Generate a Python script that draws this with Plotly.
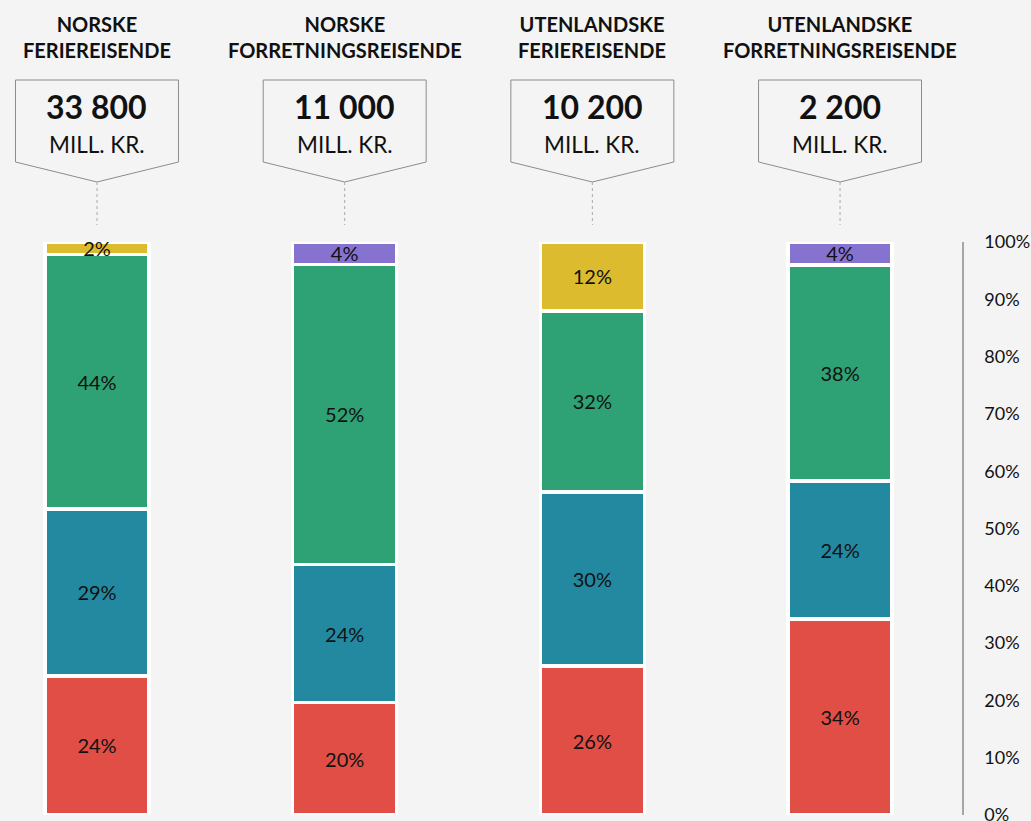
import plotly.graph_objects as go

# ---- data ----
groups = ["NORSKE<br>FERIEREISENDE", "NORSKE<br>FORRETNINGSREISENDE",
          "UTENLANDSKE<br>FERIEREISENDE", "UTENLANDSKE<br>FORRETNINGSREISENDE"]
totals = ["33 800", "11 000", "10 200", "2 200"]
unit = "MILL. KR."
share_red = [24.3, 19.6, 26.0, 34.2]
share_teal = [29.1, 24.1, 30.4, 24.1]
share_green = [44.4, 52.4, 31.6, 37.7]
share_yellow = [2.2, None, 12.0, None]
share_purple = [None, 3.9, None, 4.0]
tick_values = [0, 10, 20, 30, 40, 50, 60, 70, 80, 90, 100]
tick_labels = [f"{v}%" for v in tick_values]

FONT = "Lato"
BG = "#F4F4F4"
xpos = list(range(len(groups)))

series = [
    (share_red, "#E04E46"),
    (share_teal, "#2389A0"),
    (share_green, "#2EA274"),
    (share_yellow, "#DDBB2E"),
    (share_purple, "#8673D0"),
]

fig = go.Figure()
for vals, col in series:
    fig.add_trace(go.Bar(
        x=xpos, y=vals, width=0.42,
        marker=dict(color=col, line=dict(color="white", width=3.5)),
        texttemplate="%{y:.0f}%", textposition="inside",
        insidetextanchor="middle", textangle=0, constraintext="none",
        textfont=dict(family=FONT, size=20, color="#111111"),
        showlegend=False, hoverinfo="skip",
    ))

# paper y positions (plot area spans 0%..100%)
y_top, y_side, y_tip, y_dot = 1.2827, 1.1396, 1.1047, 1.0297
hw = 0.329
for i, g in enumerate(groups):
    c = xpos[i]
    fig.add_shape(type="path", xref="x", yref="paper",
                  path=f"M {c-hw},{y_top} L {c+hw},{y_top} L {c+hw},{y_side} L {c},{y_tip} L {c-hw},{y_side} Z",
                  fillcolor=BG, line=dict(color="#8C8C8C", width=1))
    fig.add_shape(type="line", xref="x", yref="paper", x0=c, x1=c, y0=y_tip, y1=y_dot,
                  line=dict(color="#AAAAAA", width=1, dash="dot"))
    fig.add_annotation(x=c, y=1.3586, xref="x", yref="paper", text=f"<b>{g}</b>",
                       showarrow=False, font=dict(family=FONT, size=20, color="#111111"),
                       xanchor="center", yanchor="middle")
    fig.add_annotation(x=c, y=1.2373, xref="x", yref="paper", text=f"<b>{totals[i]}</b>",
                       showarrow=False, font=dict(family=FONT, size=32, color="#111111"),
                       xanchor="center", yanchor="middle")
    fig.add_annotation(x=c, y=1.1693, xref="x", yref="paper", text=unit,
                       showarrow=False, font=dict(family=FONT, size=22.5, color="#111111"),
                       xanchor="center", yanchor="middle")

fig.update_layout(
    width=1031, height=821, barmode="stack",
    paper_bgcolor=BG, plot_bgcolor=BG,
    margin=dict(l=0, r=0, t=242, b=6, autoexpand=False),
    xaxis=dict(range=[-0.3916, 3.771], visible=False, fixedrange=True, automargin=False),
    yaxis=dict(range=[0, 100], side="right", anchor="free", position=963 / 1031,
               tickvals=tick_values, ticktext=tick_labels, showgrid=False, zeroline=False,
               showline=True, linecolor="#A6A6A6", linewidth=1.5, ticks="",
               ticklabelstandoff=17, ticklabeloverflow="allow", automargin=False,
               tickfont=dict(family=FONT, size=18, color="#111111")),
    font=dict(family=FONT),
)

fig.write_html("out.html", config={"displayModeBar": False},
               post_script="document.body.style.margin='0';document.body.style.overflow='hidden';")
